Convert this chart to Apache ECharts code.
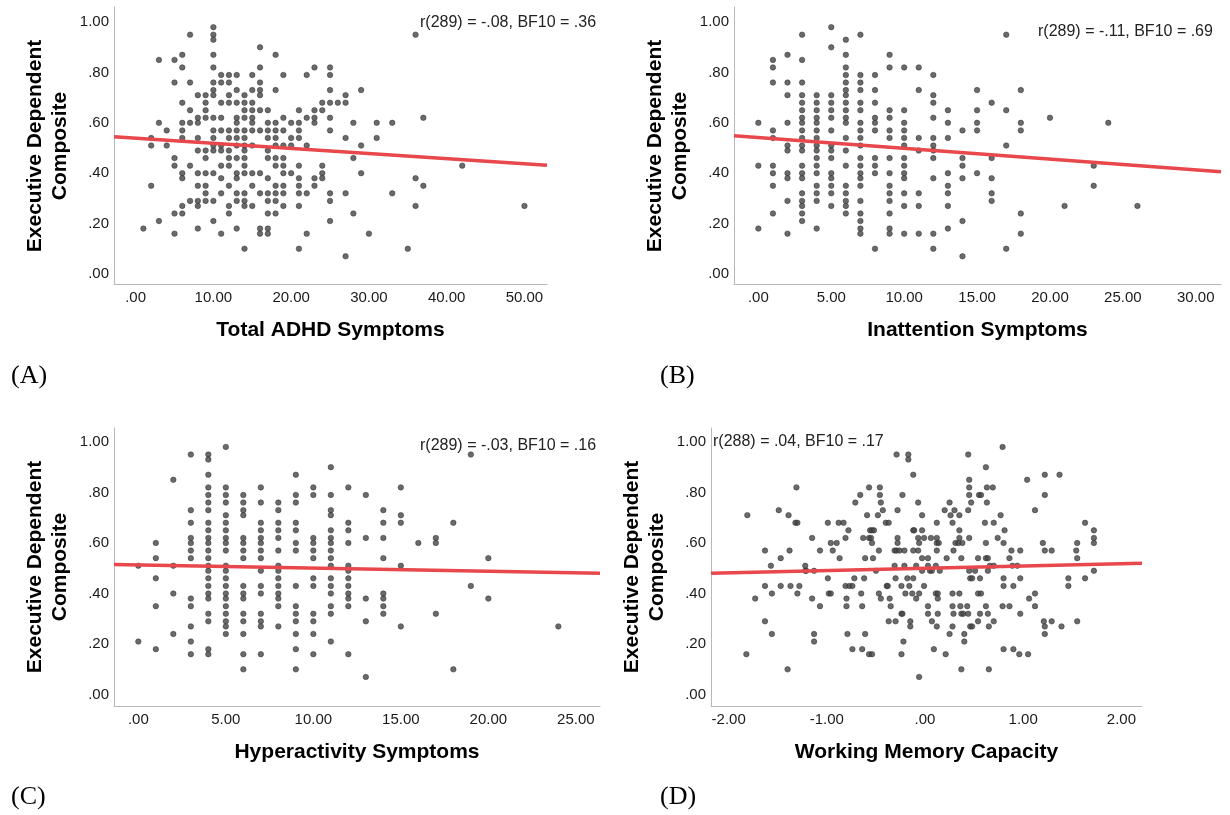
<!DOCTYPE html>
<html>
<head>
<meta charset="utf-8">
<script src="https://cdn.jsdelivr.net/npm/echarts@6/dist/echarts.min.js"></script>
<style>
  body { margin: 0; background: #fff; }
  #chart { width: 1230px; height: 815px; }
</style>
</head>
<body>
<div id="chart"></div>
<script>
// tick labels
const yTicks = [0, 0.2, 0.4, 0.6, 0.8, 1];
const xTicksA = [0, 10, 20, 30, 40, 50];
const xTicksB = [0, 5, 10, 15, 20, 25, 30];
const xTicksC = [0, 5, 10, 15, 20, 25];
const xTicksD = [-2, -1, 0, 1, 2];

const xTitles = ['Total ADHD Symptoms', 'Inattention Symptoms', 'Hyperactivity Symptoms', 'Working Memory Capacity'];
const yTitle = 'Executive Dependent\nComposite';
const statTexts = ['r(289) = -.08, BF10 = .36', 'r(289) = -.11, BF10 = .69', 'r(289) = -.03, BF10 = .16', 'r(288) = .04, BF10 = .17'];
const panelTags = ['(A)', '(B)', '(C)', '(D)'];

// (A) total ADHD symptoms vs composite
const totalAdhd = [
  [1,.18],
  [2,.54],[2,.51],[2,.35],
  [3,.85],[3,.60],[3,.21],
  [4,.57],[4,.51],
  [5,.85],[5,.76],[5,.46],[5,.43],[5,.24],[5,.16],
  [6,.87],[6,.82],[6,.68],[6,.60],[6,.57],[6,.54],[6,.40],[6,.38],[6,.27],[6,.24],
  [7,.95],[7,.76],[7,.65],[7,.60],[7,.43],[7,.29],
  [8,.71],[8,.62],[8,.60],[8,.54],[8,.49],[8,.40],[8,.35],[8,.29],[8,.27],[8,.18],
  [9,.71],[9,.68],[9,.65],[9,.62],[9,.49],[9,.46],[9,.40],[9,.35],[9,.32],[9,.29],
  [10,.98],[10,.95],[10,.93],[10,.87],[10,.82],[10,.76],[10,.73],[10,.71],[10,.62],[10,.57],[10,.54],[10,.51],[10,.49],[10,.40],[10,.29],[10,.21],
  [11,.79],[11,.76],[11,.68],[11,.62],[11,.57],[11,.51],[11,.49],[11,.43],[11,.38],[11,.32],[11,.16],
  [12,.79],[12,.76],[12,.71],[12,.68],[12,.57],[12,.54],[12,.49],[12,.46],[12,.43],[12,.35],[12,.27],[12,.24],
  [13,.79],[13,.73],[13,.68],[13,.62],[13,.60],[13,.57],[13,.54],[13,.51],[13,.46],[13,.40],[13,.38],[13,.32],[13,.29],[13,.18],
  [14,.71],[14,.68],[14,.65],[14,.62],[14,.57],[14,.54],[14,.51],[14,.49],[14,.46],[14,.43],[14,.40],[14,.32],[14,.29],[14,.27],[14,.10],
  [15,.79],[15,.73],[15,.68],[15,.65],[15,.62],[15,.60],[15,.57],[15,.51],[15,.40],[15,.35],[15,.27],
  [16,.90],[16,.82],[16,.76],[16,.73],[16,.71],[16,.65],[16,.57],[16,.40],[16,.32],[16,.18],[16,.16],
  [17,.65],[17,.60],[17,.57],[17,.54],[17,.49],[17,.46],[17,.38],[17,.32],[17,.29],[17,.24],[17,.18],[17,.16],
  [18,.87],[18,.73],[18,.60],[18,.57],[18,.54],[18,.51],[18,.46],[18,.43],[18,.35],[18,.32],[18,.29],[18,.24],
  [19,.79],[19,.62],[19,.57],[19,.51],[19,.46],[19,.43],[19,.40],[19,.35],[19,.32],[19,.27],
  [20,.60],[20,.54],[20,.51],[20,.40],
  [21,.65],[21,.60],[21,.57],[21,.54],[21,.43],[21,.38],[21,.35],[21,.32],[21,.27],[21,.10],
  [22,.79],[22,.62],[22,.51],[22,.32],[22,.16],
  [23,.82],[23,.65],[23,.62],[23,.60],[23,.38],[23,.35],
  [24,.68],[24,.65],[24,.43],[24,.40],[24,.38],
  [25,.82],[25,.79],[25,.73],[25,.68],[25,.62],[25,.57],[25,.32],[25,.29],[25,.21],
  [26,.68],
  [27,.71],[27,.68],[27,.54],[27,.32],[27,.07],
  [28,.60],[28,.46],[28,.24],
  [29,.73],[29,.51],[29,.40],
  [30,.16],
  [31,.60],[31,.54],
  [33,.60],[33,.32],
  [35,.10],
  [36,.95],[36,.38],[36,.27],
  [37,.62],[37,.35],
  [42,.43],
  [50,.27]
];

// (B) inattention symptoms
const inattention = [
  [0,.60],[0,.43],[0,.18],
  [1,.85],[1,.82],[1,.76],[1,.57],[1,.54],[1,.43],[1,.40],[1,.35],[1,.24],
  [2,.87],[2,.76],[2,.71],[2,.60],[2,.51],[2,.49],[2,.40],[2,.38],[2,.29],[2,.16],
  [3,.95],[3,.85],[3,.76],[3,.71],[3,.68],[3,.65],[3,.62],[3,.60],[3,.57],[3,.54],[3,.51],[3,.49],[3,.43],[3,.40],[3,.38],[3,.32],[3,.29],[3,.27],[3,.24],[3,.21],
  [4,.71],[4,.68],[4,.65],[4,.62],[4,.60],[4,.57],[4,.54],[4,.51],[4,.49],[4,.46],[4,.43],[4,.40],[4,.35],[4,.32],[4,.29],[4,.18],
  [5,.98],[5,.90],[5,.71],[5,.68],[5,.65],[5,.62],[5,.57],[5,.51],[5,.49],[5,.46],[5,.40],[5,.38],[5,.35],[5,.32],[5,.27],
  [6,.93],[6,.87],[6,.82],[6,.79],[6,.76],[6,.73],[6,.71],[6,.68],[6,.65],[6,.62],[6,.60],[6,.54],[6,.49],[6,.43],[6,.35],[6,.32],[6,.29],[6,.27],[6,.24],
  [7,.95],[7,.79],[7,.76],[7,.73],[7,.68],[7,.65],[7,.60],[7,.57],[7,.54],[7,.51],[7,.46],[7,.43],[7,.40],[7,.38],[7,.35],[7,.29],[7,.24],[7,.21],[7,.18],[7,.16],
  [8,.79],[8,.73],[8,.68],[8,.62],[8,.60],[8,.57],[8,.46],[8,.43],[8,.40],[8,.10],
  [9,.87],[9,.82],[9,.65],[9,.62],[9,.57],[9,.54],[9,.46],[9,.40],[9,.35],[9,.32],[9,.29],[9,.24],[9,.18],[9,.16],
  [10,.82],[10,.65],[10,.60],[10,.57],[10,.54],[10,.51],[10,.46],[10,.43],[10,.40],[10,.38],[10,.32],[10,.27],[10,.16],
  [11,.82],[11,.73],[11,.54],[11,.49],[11,.32],[11,.27],[11,.16],
  [12,.79],[12,.71],[12,.68],[12,.62],[12,.54],[12,.51],[12,.49],[12,.46],[12,.38],[12,.16],[12,.10],
  [13,.65],[13,.60],[13,.54],[13,.40],[13,.35],[13,.32],[13,.27],[13,.18],
  [14,.57],[14,.46],[14,.43],[14,.38],[14,.21],[14,.07],
  [15,.73],[15,.65],[15,.60],[15,.57],[15,.40],
  [16,.68],[16,.46],[16,.38],[16,.32],[16,.29],
  [17,.95],[17,.65],[17,.51],[17,.10],
  [18,.73],[18,.60],[18,.57],[18,.24],[18,.16],
  [20,.62],[21,.27],[23,.43],[23,.35],[24,.60],[26,.27]
];

// (C) hyperactivity symptoms
const hyperactivity = [
  [0,.51],[0,.21],
  [1,.60],[1,.54],[1,.46],[1,.35],[1,.18],
  [2,.85],[2,.51],[2,.40],[2,.24],
  [3,.95],[3,.73],[3,.68],[3,.62],[3,.60],[3,.57],[3,.54],[3,.38],[3,.35],[3,.27],[3,.21],[3,.16],
  [4,.95],[4,.93],[4,.87],[4,.82],[4,.79],[4,.76],[4,.73],[4,.68],[4,.65],[4,.62],[4,.60],[4,.57],[4,.54],[4,.51],[4,.49],[4,.46],[4,.43],[4,.40],[4,.38],[4,.32],[4,.29],[4,.18],[4,.16],
  [5,.98],[5,.82],[5,.79],[5,.76],[5,.71],[5,.68],[5,.65],[5,.62],[5,.60],[5,.57],[5,.51],[5,.49],[5,.46],[5,.43],[5,.40],[5,.38],[5,.35],[5,.32],[5,.29],[5,.27],[5,.24],
  [6,.79],[6,.76],[6,.73],[6,.71],[6,.62],[6,.60],[6,.57],[6,.54],[6,.43],[6,.40],[6,.38],[6,.32],[6,.29],[6,.24],[6,.16],[6,.10],
  [7,.82],[7,.76],[7,.68],[7,.65],[7,.62],[7,.60],[7,.57],[7,.54],[7,.49],[7,.43],[7,.40],[7,.32],[7,.29],[7,.27],[7,.16],
  [8,.76],[8,.73],[8,.68],[8,.65],[8,.62],[8,.57],[8,.51],[8,.49],[8,.46],[8,.43],[8,.40],[8,.38],[8,.35],[8,.27],
  [9,.87],[9,.79],[9,.76],[9,.68],[9,.65],[9,.60],[9,.57],[9,.43],[9,.35],[9,.32],[9,.29],[9,.24],[9,.18],[9,.10],
  [10,.82],[10,.79],[10,.62],[10,.60],[10,.57],[10,.54],[10,.46],[10,.43],[10,.32],[10,.29],[10,.24],[10,.16],
  [11,.90],[11,.79],[11,.73],[11,.71],[11,.65],[11,.62],[11,.60],[11,.57],[11,.54],[11,.51],[11,.46],[11,.43],[11,.40],[11,.35],[11,.32],[11,.21],
  [12,.82],[12,.68],[12,.65],[12,.60],[12,.51],[12,.49],[12,.46],[12,.43],[12,.40],[12,.38],[12,.35],[12,.16],
  [13,.79],[13,.62],[13,.38],[13,.29],[13,.07],
  [14,.73],[14,.68],[14,.62],[14,.54],[14,.40],[14,.38],[14,.35],[14,.32],
  [15,.82],[15,.71],[15,.68],[15,.51],[15,.27],
  [16,.60],
  [17,.62],[17,.60],[17,.32],
  [18,.68],[18,.10],
  [19,.95],[19,.43],
  [20,.54],[20,.38],
  [24,.27]
];

// (D) working memory capacity
const workingMemory = [
  [-1.81,.71],[-1.82,.16],[-1.73,.38],[-1.63,.57],[-1.63,.43],[-1.63,.29],[-1.57,.51],[-1.56,.40],[-1.56,.24],
  [-1.49,.73],[-1.47,.54],[-1.47,.43],[-1.40,.10],[-1.39,.71],[-1.38,.57],[-1.37,.43],[-1.31,.82],[-1.32,.68],
  [-1.30,.68],[-1.30,.40],[-1.28,.43],[-1.22,.51],[-1.22,.49],[-1.21,.49],[-1.15,.62],[-1.15,.38],[-1.13,.49],
  [-1.13,.24],[-1.13,.21],[-1.07,.57],[-1.07,.35],[-0.99,.46],[-0.99,.68],[-0.98,.40],[-0.96,.60],[-0.96,.40],
  [-0.94,.57],[-0.90,.60],[-0.88,.68],[-0.87,.54],[-0.83,.68],[-0.81,.62],[-0.81,.43],[-0.80,.38],[-0.80,.35],
  [-0.79,.24],[-0.78,.65],[-0.77,.43],[-0.74,.43],[-0.74,.18],[-0.72,.46],[-0.71,.76],[-0.66,.79],[-0.65,.40],
  [-0.64,.18],[-0.64,.35],[-0.63,.62],[-0.62,.46],[-0.61,.54],[-0.61,.24],[-0.59,.71],[-0.57,.82],[-0.57,.62],
  [-0.57,.16],[-0.56,.65],[-0.55,.62],[-0.54,.16],[-0.54,.60],[-0.54,.65],[-0.53,.54],[-0.52,.65],[-0.50,.49],
  [-0.48,.71],[-0.47,.40],[-0.47,.57],[-0.46,.82],[-0.46,.79],[-0.45,.76],[-0.45,.38],[-0.43,.73],[-0.40,.68],
  [-0.39,.43],[-0.38,.43],[-0.37,.68],[-0.36,.38],[-0.35,.35],[-0.37,.29],[-0.30,.29],[-0.30,.46],[-0.29,.95],
  [-0.28,.73],[-0.28,.62],[-0.28,.60],[-0.31,.57],[-0.29,.57],[-0.26,.57],[-0.31,.51],[-0.24,.43],[-0.24,.32],
  [-0.24,.16],[-0.23,.32],[-0.23,.79],[-0.22,.21],[-0.21,.57],[-0.21,.51],[-0.20,.40],[-0.18,.46],[-0.17,.95],
  [-0.17,.93],[-0.16,.43],[-0.15,.27],[-0.15,.29],[-0.13,.40],[-0.12,.65],[-0.12,.87],[-0.12,.57],[-0.12,.46],
  [-0.11,.65],[-0.09,.51],[-0.09,.38],[-0.07,.76],[-0.07,.62],[-0.07,.57],[-0.06,.40],[-0.06,.07],[-0.06,.60],
  [-0.03,.71],[-0.03,.65],[-0.01,.62],[-0.03,.54],[0.03,.54],[-0.03,.49],[0.03,.51],[0.05,.49],[0.07,.49],
  [0.11,.51],[0.15,.49],[-0.01,.43],[0.11,.40],[0.13,.40],[0.13,.38],[0.03,.35],[0.03,.32],[0.13,.32],
  [0.07,.29],[0.12,.27],[0.09,.18],[0.21,.16],[0.06,.62],[0.12,.62],[0.12,.60],[0.14,.60],[0.12,.57],
  [0.12,.68],[0.20,.73],[0.25,.76],[0.26,.71],[0.28,.68],[0.30,.73],[0.35,.71],[0.31,.60],[0.29,.57],
  [0.35,.65],[0.35,.62],[0.34,.60],[0.38,.60],[0.37,.54],[0.22,.54],[0.28,.40],[0.35,.40],[0.28,.35],
  [0.29,.32],[0.36,.35],[0.37,.32],[0.39,.32],[0.43,.35],[0.44,.32],[0.25,.24],[0.28,.27],[0.40,.24],
  [0.40,.21],[0.37,.10],[0.45,.62],[0.44,.73],[0.44,.95],[0.45,.85],[0.45,.82],[0.45,.79],[0.47,.76],
  [0.45,.49],[0.46,.46],[0.48,.46],[0.46,.27],[0.48,.27],[0.51,.49],[0.54,.29],[0.55,.79],[0.57,.79],
  [0.54,.54],[0.54,.40],[0.56,.46],[0.56,.32],[0.57,.40],[0.61,.68],[0.62,.90],[0.62,.60],[0.62,.54],
  [0.63,.82],[0.63,.76],[0.64,.54],[0.64,.49],[0.62,.35],[0.64,.32],[0.65,.27],[0.65,.10],[0.66,.51],
  [0.69,.82],[0.70,.68],[0.70,.51],[0.70,.29],[0.74,.62],[0.77,.71],[0.79,.98],[0.81,.65],[0.80,.60],
  [0.80,.46],[0.80,.43],[0.79,.35],[0.80,.18],[0.86,.54],[0.86,.35],[0.88,.57],[0.89,.51],[0.90,.43],
  [0.90,.18],[0.94,.51],[0.97,.57],[0.97,.46],[0.97,.32],[0.96,.16],[1.04,.85],[1.05,.16],[1.06,.38],
  [1.12,.73],[1.12,.40],[1.12,.35],[1.20,.60],[1.22,.57],[1.22,.87],[1.22,.79],[1.21,.29],[1.22,.27],
  [1.22,.24],[1.29,.57],[1.29,.29],[1.37,.87],[1.39,.27],[1.46,.46],[1.46,.43],[1.54,.57],[1.55,.54],
  [1.55,.60],[1.55,.29],[1.63,.68],[1.63,.46],[1.72,.65],[1.72,.62],[1.72,.60],[1.72,.49]
];

// fit line end points, read at the axis extents
const fitA = [[-2.78, .545], [52.9, .432]];
const fitB = [[-1.67, .549], [31.73, .406]];
const fitC = [[-1.39, .515], [26.38, .48]];
const fitD = [[-2.18, .48], [2.21, .52]];

const panels = [
  { pts: totalAdhd, fit: fitA, ticks: xTicksA, xmin: -2.78, xmax: 52.9, ymin: -0.04, ymax: 1.06,
    grid: { left: 114, top: 7, width: 433, height: 277 }, ytx: 48, yty: 146, stat: [420, 23], tag: [11, 376] },
  { pts: inattention, fit: fitB, ticks: xTicksB, xmin: -1.67, xmax: 31.73, ymin: -0.04, ymax: 1.06,
    grid: { left: 734, top: 7, width: 487, height: 277 }, ytx: 668, yty: 146, stat: [1038, 32], tag: [660, 376] },
  { pts: hyperactivity, fit: fitC, ticks: xTicksC, xmin: -1.39, xmax: 26.38, ymin: -0.045, ymax: 1.055,
    grid: { left: 114, top: 428, width: 486, height: 278 }, ytx: 48, yty: 567, stat: [420, 446], tag: [11, 797] },
  { pts: workingMemory, fit: fitD, ticks: xTicksD, xmin: -2.18, xmax: 2.21, ymin: -0.045, ymax: 1.055,
    grid: { left: 711, top: 428, width: 431, height: 278 }, ytx: 645, yty: 567, stat: [713, 442], tag: [660, 797] }
];

function fmt(v) {
  let s = Math.abs(v).toFixed(2);
  if (s[0] === '0') s = s.slice(1);
  return (v < 0 ? '-' : '') + s;
}

const sans = '"Liberation Sans", Arial, sans-serif';
const axisLine = { show: true, onZero: false, lineStyle: { color: '#b8b8b8', width: 1 } };

const option = {
  animation: false,
  backgroundColor: '#fff',
  grid: panels.map(p => p.grid),
  xAxis: panels.map((p, i) => ({
    type: 'value', gridIndex: i, min: p.xmin, max: p.xmax,
    axisLine: axisLine, axisTick: { show: false }, splitLine: { show: false },
    axisLabel: { customValues: p.ticks, formatter: fmt, color: '#1a1a1a', fontSize: 15, fontFamily: sans, margin: 6 },
    name: xTitles[i], nameLocation: 'middle', nameGap: 36,
    nameTextStyle: { fontSize: 21, fontWeight: 'bold', color: '#000', fontFamily: sans }
  })),
  yAxis: panels.map((p, i) => ({
    type: 'value', gridIndex: i, min: p.ymin, max: p.ymax,
    axisLine: axisLine, axisTick: { show: false }, splitLine: { show: false },
    axisLabel: { customValues: yTicks, formatter: fmt, color: '#1a1a1a', fontSize: 15, fontFamily: sans, margin: 5 }
  })),
  series: [],
  graphic: []
};

panels.forEach((p, i) => {
  option.series.push({
    type: 'scatter', xAxisIndex: i, yAxisIndex: i, data: p.pts,
    symbolSize: 5.5, itemStyle: { color: '#454545', borderColor: '#2a2a2a', borderWidth: 0.6 }
  });
  option.series.push({
    type: 'line', xAxisIndex: i, yAxisIndex: i, data: p.fit, symbol: 'none', z: 5,
    lineStyle: { color: '#e8474b', width: 3.5 }
  });
  option.graphic.push({
    type: 'text', x: p.ytx, y: p.yty, rotation: Math.PI / 2,
    style: { text: yTitle, textAlign: 'center', textVerticalAlign: 'middle', lineHeight: 25,
      font: 'bold 21px ' + sans, fill: '#000' }
  });
  option.graphic.push({
    type: 'text', x: p.stat[0], y: p.stat[1],
    style: { text: statTexts[i], textVerticalAlign: 'middle', font: '16px ' + sans, fill: '#222' }
  });
  option.graphic.push({
    type: 'text', x: p.tag[0], y: p.tag[1],
    style: { text: panelTags[i], textVerticalAlign: 'middle', font: '26px "Liberation Serif", "Times New Roman", serif', fill: '#000' }
  });
});

const chart = echarts.init(document.getElementById('chart'));
chart.setOption(option);
</script>
</body>
</html>
